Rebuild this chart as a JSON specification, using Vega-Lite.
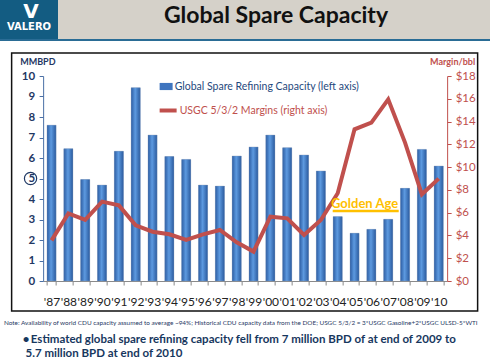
{
  "$schema": "https://vega.github.io/schema/vega-lite/v6.json",
  "padding": 0,
  "background": "white",
  "config": {"font": "Lato", "view": {"stroke": null}},
  "title": {
    "text": "Note:  Availability of world CDU capacity assumed to average ~94%; Historical CDU capacity data from the DOE; USGC 5/3/2 = 3*USGC Gasoline+2*USGC ULSD-5*WTI",
    "subtitle": ["\u200b\u2003\u2002\u2009\u2009\u2009•\u2009Estimated global spare refining capacity fell from 7 million BPD of at end of 2009 to", "\u200b\u2003\u2003\u2009\u2009\u20095.7 million BPD at end of 2010"],
    "orient": "bottom",
    "anchor": "start",
    "offset": 8,
    "dx": 4,
    "fontSize": 6.4,
    "fontWeight": "normal",
    "color": "#1F3864",
    "subtitleFontSize": 11.5,
    "subtitleFontWeight": "bold",
    "subtitleColor": "#17375E",
    "subtitlePadding": 8,
    "subtitleLineHeight": 14
  },
  "spacing": 11,
  "center": true,
  "vconcat": [
    {
      "spacing": 0,
      "vconcat": [
        {
          "spacing": 0,
          "hconcat": [
            {
              "width": 58,
              "height": 39,
              "view": {"fill": "#135C82", "stroke": null},
              "data": {"values": [{"t": "VALERO", "v": "V"}]},
              "layer": [
                {
                  "mark": {"type": "text", "color": "white", "fontWeight": "bold", "fontSize": 10, "font": "DejaVu Sans", "baseline": "alphabetic", "dy": 10},
                  "encoding": {"text": {"field": "t"}}
                },
                {
                  "mark": {"type": "text", "color": "white", "fontWeight": "bold", "fontSize": 20, "font": "DejaVu Sans", "baseline": "alphabetic", "dy": -2, "dx": 2},
                  "encoding": {"text": {"field": "v"}}
                }
              ]
            },
            {
              "width": 432,
              "height": 39,
              "view": {"fill": "#D5D1C9", "stroke": null},
              "data": {"values": [{"t": "Global Spare Capacity"}]},
              "mark": {"type": "text", "fontSize": 23, "fontWeight": "bold", "color": "#111111", "baseline": "alphabetic", "dy": 3, "dx": 2},
              "encoding": {"text": {"field": "t"}}
            }
          ]
        },
        {
          "width": 490,
          "height": 2,
          "view": {"fill": "#2A6C95", "stroke": null},
          "data": {"values": [{"t": "."}]},
          "mark": {"type": "text", "fontSize": 1, "opacity": 0},
          "encoding": {"text": {"field": "t"}}
        }
      ]
    },
    {
      "width": 466,
      "height": 258,
      "view": {"stroke": "#111111", "strokeWidth": 1.5, "fill": "white"},
      "data": {
        "values": [
          {"year": "'87", "capacity": 7.6, "margin": 3.57},
          {"year": "'88", "capacity": 6.45, "margin": 5.94},
          {"year": "'89", "capacity": 4.95, "margin": 5.36},
          {"year": "'90", "capacity": 4.68, "margin": 6.97},
          {"year": "'91", "capacity": 6.33, "margin": 6.64},
          {"year": "'92", "capacity": 9.43, "margin": 4.89},
          {"year": "'93", "capacity": 7.12, "margin": 4.33},
          {"year": "'94", "capacity": 6.07, "margin": 4.1},
          {"year": "'95", "capacity": 5.93, "margin": 3.6},
          {"year": "'96", "capacity": 4.68, "margin": 4.1},
          {"year": "'97", "capacity": 4.63, "margin": 4.48},
          {"year": "'98", "capacity": 6.1, "margin": 3.4},
          {"year": "'99", "capacity": 6.54, "margin": 2.58},
          {"year": "'00", "capacity": 7.12, "margin": 5.65},
          {"year": "'01", "capacity": 6.5, "margin": 5.5},
          {"year": "'02", "capacity": 6.15, "margin": 4.04},
          {"year": "'03", "capacity": 5.37, "margin": 5.36},
          {"year": "'04", "capacity": 3.14, "margin": 7.7},
          {"year": "'05", "capacity": 2.33, "margin": 13.32},
          {"year": "'06", "capacity": 2.52, "margin": 13.9},
          {"year": "'07", "capacity": 3.01, "margin": 15.95},
          {"year": "'08", "capacity": 4.52, "margin": 12.15},
          {"year": "'09", "capacity": 6.42, "margin": 7.61},
          {"year": "'10", "capacity": 5.61, "margin": 8.99}
        ]
      },
      "encoding": {
        "x": {
          "field": "year",
          "type": "ordinal",
          "sort": null,
          "scale": {
            "domain": ["'87", "'88", "'89", "'90", "'91", "'92", "'93", "'94", "'95", "'96", "'97", "'98", "'99", "'00", "'01", "'02", "'03", "'04", "'05", "'06", "'07", "'08", "'09", "'10"],
            "range": [31.5, 435.5],
            "paddingInner": 0.46,
            "paddingOuter": 0.23
          },
          "axis": {
            "orient": "bottom",
            "offset": -30,
            "title": null,
            "labelAngle": 0,
            "labelOverlap": false,
            "labelColor": "#222222",
            "labelFontSize": 12,
            "labelPadding": 11,
            "tickSize": 4,
            "tickBand": "extent",
            "tickColor": "#8A8A8A",
            "domainColor": "#8A8A8A"
          }
        }
      },
      "layer": [
        {
          "mark": {"type": "bar"},
          "encoding": {
            "y": {
              "field": "capacity",
              "type": "quantitative",
              "scale": {"domain": [0, 10], "range": [228, 23], "nice": false, "zero": true},
              "axis": {
                "orient": "left",
                "offset": -31.5,
                "values": [0, 1, 2, 3, 4, 5, 6, 7, 8, 9, 10],
                "labelOverlap": false,
                "grid": false,
                "tickSize": 4,
                "tickColor": "#4A6FA5",
                "domainColor": "#4A6FA5",
                "labelColor": "#1F3864",
                "labelFontSize": 11.5,
                "labelFontWeight": "bold",
                "labelPadding": 4.5,
                "title": "MMBPD",
                "titleAngle": 0,
                "titleAlign": "left",
                "titleBaseline": "middle",
                "titleX": -23.5,
                "titleY": 8,
                "titleColor": "#1F3864",
                "titleFontSize": 9,
                "titleFontWeight": "bold"
              }
            },
            "color": {
              "datum": "Global Spare Refining Capacity (left axis)",
              "scale": {"range": ["#3F75BF"]},
              "legend": {
                "orient": "none",
                "legendX": 148,
                "legendY": 27,
                "title": null,
                "padding": 0,
                "symbolType": "M-1,-0.55H1V0.55H-1Z",
                "symbolSize": 169,
                "symbolStrokeWidth": 0,
                "labelOffset": 2,
                "labelFontSize": 10.5,
                "labelColor": "#1F497D",
                "labelLimit": 400
              }
            }
          }
        },
        {
          "mark": {
            "type": "bar",
            "color": {
              "gradient": "linear",
              "x1": 0, "x2": 1, "y1": 0, "y2": 0,
              "stops": [
                {"offset": 0, "color": "#2C5DA3"},
                {"offset": 0.45, "color": "#5D9AE0"},
                {"offset": 1, "color": "#2A5A9E"}
              ]
            },
            "stroke": "#8FA0B8",
            "strokeWidth": 0.6,
            "strokeOpacity": 0.6
          },
          "encoding": {
            "y": {"field": "capacity", "type": "quantitative", "scale": {"domain": [0, 10], "range": [228, 23], "nice": false}, "axis": null}
          }
        },
        {
          "mark": {"type": "line", "strokeWidth": 4},
          "encoding": {
            "y": {
              "field": "margin",
              "type": "quantitative",
              "scale": {"domain": [0, 18], "range": [228, 23], "nice": false},
              "axis": {
                "orient": "right",
                "offset": -30.5,
                "values": [0, 2, 4, 6, 8, 10, 12, 14, 16, 18],
                "labelOverlap": false,
                "labelExpr": "'$' + datum.value",
                "grid": false,
                "tickSize": 4,
                "tickColor": "#C0504D",
                "domainColor": "#C0504D",
                "labelColor": "#C0504D",
                "labelFontSize": 11.5,
                "labelPadding": 4,
                "title": "Margin/bbl",
                "titleAngle": 0,
                "titleAlign": "right",
                "titleBaseline": "middle",
                "titleX": 27.5,
                "titleY": 8,
                "titleColor": "#C0504D",
                "titleFontSize": 9,
                "titleFontWeight": "bold"
              }
            },
            "color": {
              "datum": "USGC 5/3/2 Margins (right axis)",
              "scale": {"range": ["#C0504D"]},
              "legend": {
                "orient": "none",
                "legendX": 146,
                "legendY": 47,
                "title": null,
                "padding": 0,
                "symbolType": "stroke",
                "symbolSize": 289,
                "symbolStrokeWidth": 4,
                "labelOffset": 1,
                "labelFontSize": 10.5,
                "labelColor": "#C0504D",
                "labelLimit": 400
              }
            }
          }
        },
        {
          "data": {"values": [{"label": "Golden Age"}]},
          "mark": {"type": "text", "color": "#FFC000", "fontSize": 13, "fontWeight": "bold", "xOffset": 10, "baseline": "middle"},
          "encoding": {
            "x": {"datum": "'05"},
            "y": {"datum": 3.76, "type": "quantitative", "scale": {"domain": [0, 10], "range": [228, 23], "nice": false}, "axis": null},
            "text": {"field": "label"}
          }
        },
        {
          "data": {"values": [{"label": "Golden Age"}]},
          "mark": {"type": "rule", "color": "#FFC000", "strokeWidth": 2.5, "xOffset": -5, "x2Offset": 10.5},
          "encoding": {
            "x": {"datum": "'04"},
            "x2": {"datum": "'07"},
            "y": {"datum": 3.41, "type": "quantitative", "scale": {"domain": [0, 10], "range": [228, 23], "nice": false}, "axis": null}
          }
        },
        {
          "data": {"values": [{"label": "5"}]},
          "mark": {"type": "point", "shape": "circle", "filled": false, "stroke": "#1F3864", "strokeWidth": 1.2, "size": 150, "opacity": 1, "xOffset": -21},
          "encoding": {
            "x": {"datum": "'87"},
            "y": {"datum": 5, "type": "quantitative", "scale": {"domain": [0, 10], "range": [228, 23], "nice": false}, "axis": null}
          }
        }
      ],
      "resolve": {"scale": {"y": "independent", "color": "independent"}, "legend": {"color": "independent"}}
    }
  ]
}
